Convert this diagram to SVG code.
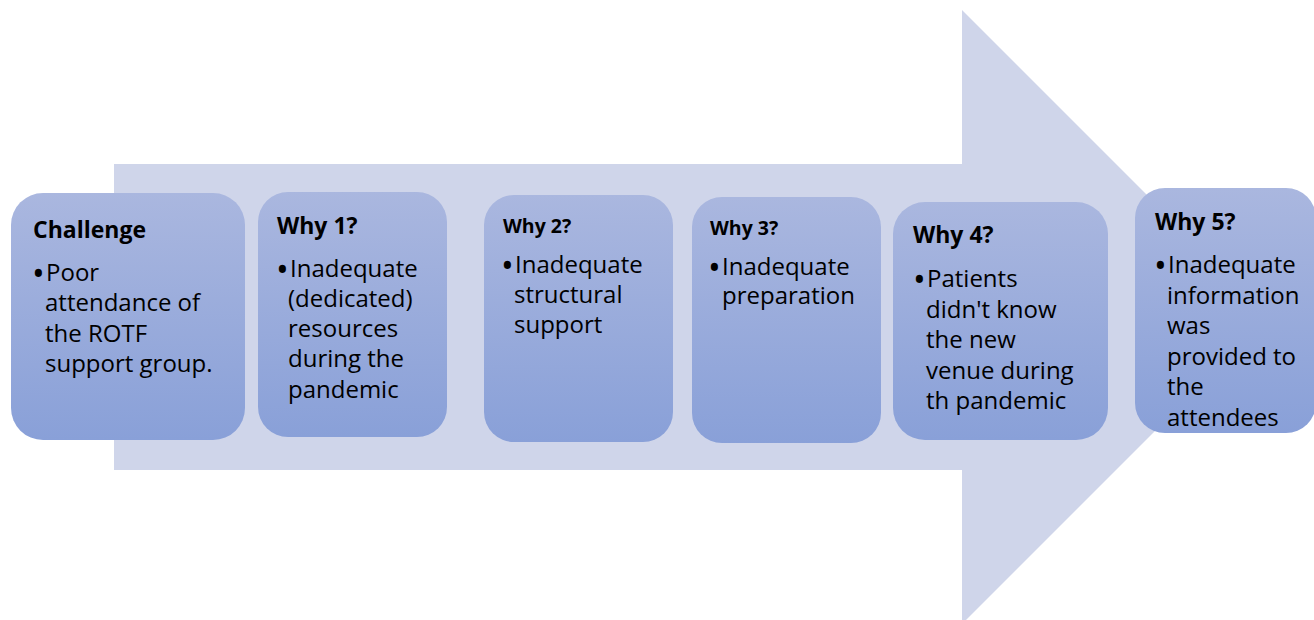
<svg xmlns="http://www.w3.org/2000/svg" width="1314" height="620" viewBox="0 0 1314 620">
<defs>
<linearGradient id="boxGrad" x1="0" y1="0" x2="0" y2="1">
<stop offset="0" stop-color="#AAB7DF"/>
<stop offset="1" stop-color="#89A0D8"/>
</linearGradient>
<style>
.box{fill:url(#boxGrad);}
.h{font-family:"Open Sans","Liberation Sans",sans-serif;font-weight:bold;font-size:23px;fill:#000;}
.hs{font-size:19.5px;}
.t{font-family:"Open Sans","Liberation Sans",sans-serif;font-size:24px;fill:#000;}
.b{font-size:34px;}
</style>
</defs>
<rect width="1314" height="620" fill="#FFFFFF"/>
<g id="arrow">
<polygon points="114,164 962,164 962,10 1269,317 962,624 962,470 114,470" fill="#CFD5EA"/>
</g>
<g id="challenge">
<rect class="box" x="11" y="193" width="234" height="247" rx="32"/>
<text class="h" x="33" y="238">Challenge</text>
<text class="t"><tspan class="b" x="32" y="286">•</tspan><tspan x="46" y="281">Poor</tspan><tspan x="45" y="311">attendance of</tspan><tspan x="45" y="342">the ROTF</tspan><tspan x="45" y="372">support group.</tspan></text>
</g>
<g id="why1">
<rect class="box" x="258" y="192" width="189" height="245" rx="30"/>
<text class="h" x="277" y="234">Why 1?</text>
<text class="t"><tspan class="b" x="276" y="282">•</tspan><tspan x="290" y="277">Inadequate</tspan><tspan x="288" y="307">(dedicated)</tspan><tspan x="288" y="337">resources</tspan><tspan x="288" y="367">during the</tspan><tspan x="288" y="398">pandemic</tspan></text>
</g>
<g id="why2">
<rect class="box" x="484" y="195" width="189" height="247" rx="30"/>
<text class="h hs" x="503" y="233">Why 2?</text>
<text class="t"><tspan class="b" x="501" y="278">•</tspan><tspan x="515" y="273">Inadequate</tspan><tspan x="514" y="303">structural</tspan><tspan x="514" y="333">support</tspan></text>
</g>
<g id="why3">
<rect class="box" x="692" y="197" width="189" height="246" rx="30"/>
<text class="h hs" x="710" y="235">Why 3?</text>
<text class="t"><tspan class="b" x="708" y="280">•</tspan><tspan x="722" y="275">Inadequate</tspan><tspan x="722" y="304">preparation</tspan></text>
</g>
<g id="why4">
<rect class="box" x="893" y="202" width="215" height="238" rx="32"/>
<text class="h" x="913" y="243">Why 4?</text>
<text class="t"><tspan class="b" x="913" y="292">•</tspan><tspan x="927" y="287">Patients</tspan><tspan x="926" y="318">didn't know</tspan><tspan x="926" y="348">the new</tspan><tspan x="926" y="379">venue during</tspan><tspan x="926" y="409">th pandemic</tspan></text>
</g>
<g id="why5">
<rect class="box" x="1135" y="188" width="181" height="245" rx="30"/>
<text class="h" x="1155" y="230">Why 5?</text>
<text class="t"><tspan class="b" x="1154" y="278">•</tspan><tspan x="1168" y="273">Inadequate</tspan><tspan x="1167" y="304">information</tspan><tspan x="1167" y="334">was</tspan><tspan x="1167" y="365">provided to</tspan><tspan x="1167" y="395">the</tspan><tspan x="1167" y="426">attendees</tspan></text>
</g>
<g id="connectors"></g>
</svg>
